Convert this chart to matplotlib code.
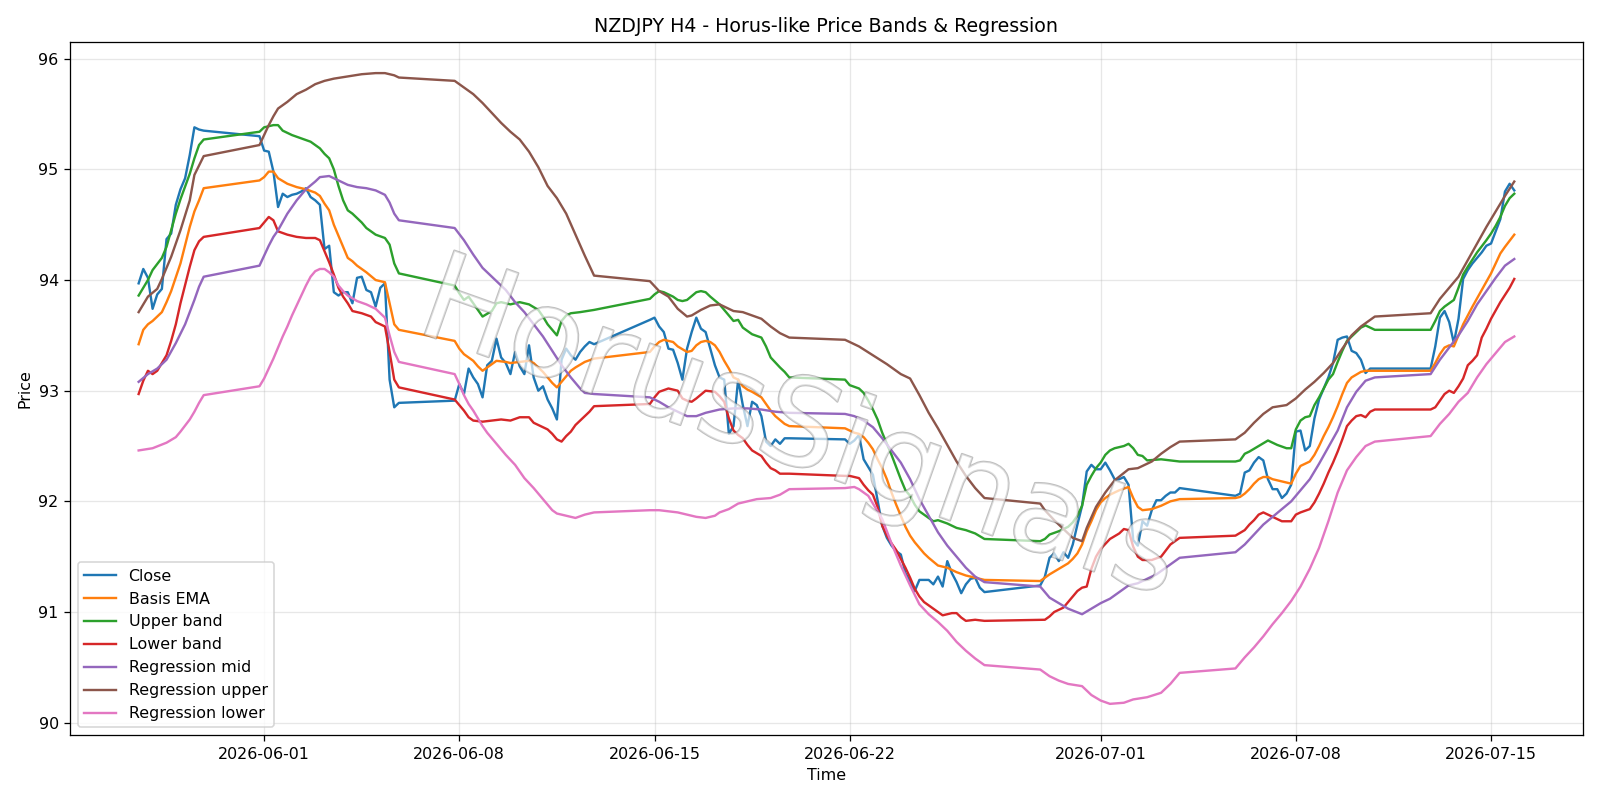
import matplotlib
matplotlib.use("Agg")
import matplotlib.pyplot as plt
import matplotlib.patheffects as pe
import pandas as pd

# H4 sessions: first bar of each trading week and number of 4h bars
sessions = [("2026-05-27 12:00", 15), ("2026-05-31 20:00", 31), ("2026-06-07 20:00", 31),
            ("2026-06-14 20:00", 31), ("2026-06-21 20:00", 31), ("2026-06-28 20:00", 31),
            ("2026-07-05 20:00", 31), ("2026-07-12 20:00", 19)]

close = [
    93.97, 94.10, 94.02, 93.74, 93.87, 93.92, 94.37, 94.42, 94.68, 94.82, 94.92, 95.13, 95.38, 95.36, 95.35,
    95.30, 95.17, 95.16, 94.98, 94.66, 94.78, 94.75, 94.77, 94.78, 94.80, 94.83, 94.75, 94.72, 94.68, 94.28, 94.31,
    93.89, 93.86, 93.89, 93.89, 93.79, 94.02, 94.03, 93.91, 93.89, 93.76, 93.93, 93.97, 93.10, 92.85, 92.89,
    92.91, 93.06, 92.97, 93.20, 93.12, 93.06, 92.94, 93.23, 93.27, 93.47, 93.30, 93.25, 93.15, 93.35, 93.22, 93.15,
    93.41, 93.12, 93.00, 93.04, 92.92, 92.84, 92.74, 93.28, 93.38, 93.32, 93.28, 93.35, 93.40, 93.44, 93.42,
    93.64, 93.66, 93.58, 93.53, 93.38, 93.37, 93.25, 93.10, 93.38, 93.53, 93.66, 93.56, 93.53, 93.38, 93.23, 93.12,
    93.10, 92.61, 92.68, 93.10, 92.87, 92.68, 92.90, 92.87, 92.77, 92.54, 92.50, 92.56, 92.52, 92.57, 92.57,
    92.56, 92.52, 92.55, 92.60, 92.38, 92.31, 92.24, 92.01, 91.78, 91.67, 91.60, 91.55, 91.52, 91.35, 91.28, 91.19,
    91.29, 91.29, 91.29, 91.25, 91.32, 91.23, 91.46, 91.35, 91.27, 91.17, 91.25, 91.30, 91.31, 91.22, 91.18,
    91.24, 91.32, 91.49, 91.53, 91.46, 91.54, 91.49, 91.61, 91.79, 91.96, 92.27, 92.33, 92.29, 92.29, 92.35, 92.28,
    92.20, 92.20, 92.22, 92.15, 91.65, 91.60, 91.82, 91.78, 91.92, 92.01, 92.01, 92.05, 92.08, 92.08, 92.12,
    92.05, 92.07, 92.26, 92.28, 92.35, 92.40, 92.37, 92.20, 92.11, 92.11, 92.03, 92.07, 92.15, 92.63, 92.64, 92.46,
    92.50, 92.75, 92.92, 93.02, 93.12, 93.25, 93.46, 93.48, 93.49, 93.36, 93.34, 93.28, 93.16, 93.20, 93.20,
    93.20, 93.40, 93.66, 93.72, 93.62, 93.43, 93.65, 94.01, 94.09, 94.15, 94.20, 94.25, 94.31, 94.33, 94.44,
    94.55, 94.80, 94.87, 94.81,
]

# (hours from 2026-06-01 00:00, price)
basis = [(-108, 93.42), (-104, 93.55), (-100, 93.60), (-96, 93.63), (-88, 93.71), (-84, 93.80), (-80, 93.90),
         (-72, 94.15), (-64, 94.48), (-60, 94.62), (-56, 94.72), (-52, 94.83), (-4, 94.90), (0, 94.93), (4, 94.98),
         (8, 94.98), (12, 94.92), (20, 94.87), (28, 94.84), (36, 94.82), (44, 94.79), (48, 94.76), (52, 94.69),
         (56, 94.63), (60, 94.50), (64, 94.40), (68, 94.30), (72, 94.20), (76, 94.17), (80, 94.13), (88, 94.07),
         (96, 94.00), (104, 93.98), (108, 93.79), (112, 93.60), (116, 93.55), (164, 93.45), (168, 93.38),
         (172, 93.33), (176, 93.30), (180, 93.27), (184, 93.22), (188, 93.18), (192, 93.21), (196, 93.24),
         (200, 93.27), (208, 93.26), (212, 93.25), (220, 93.26), (228, 93.27), (232, 93.25), (236, 93.21),
         (240, 93.17), (244, 93.12), (248, 93.07), (252, 93.03), (256, 93.08), (260, 93.13), (264, 93.18),
         (268, 93.21), (276, 93.26), (284, 93.29), (332, 93.35), (336, 93.40), (340, 93.44), (344, 93.46),
         (352, 93.44), (356, 93.40), (364, 93.35), (368, 93.36), (372, 93.41), (376, 93.44), (380, 93.45),
         (384, 93.44), (388, 93.41), (392, 93.35), (396, 93.27), (400, 93.20), (404, 93.12), (408, 93.10),
         (412, 93.04), (416, 93.01), (420, 92.99), (428, 92.94), (432, 92.88), (436, 92.82), (440, 92.77),
         (448, 92.70), (452, 92.68), (500, 92.66), (508, 92.62), (512, 92.61), (516, 92.58), (520, 92.53),
         (524, 92.47), (528, 92.38), (532, 92.30), (536, 92.20), (540, 92.08), (544, 91.97), (548, 91.87),
         (552, 91.77), (556, 91.69), (560, 91.63), (564, 91.58), (568, 91.53), (572, 91.49), (580, 91.42),
         (588, 91.40), (596, 91.36), (604, 91.33), (612, 91.31), (620, 91.29), (668, 91.28), (672, 91.31),
         (676, 91.34), (684, 91.39), (692, 91.44), (696, 91.48), (700, 91.53), (704, 91.61), (708, 91.73),
         (712, 91.82), (716, 91.92), (720, 91.99), (724, 92.03), (728, 92.06), (736, 92.10), (744, 92.13),
         (748, 92.03), (752, 91.95), (756, 91.92), (764, 91.93), (772, 91.96), (780, 92.00), (788, 92.02),
         (836, 92.03), (840, 92.04), (844, 92.07), (848, 92.11), (852, 92.16), (856, 92.20), (860, 92.22),
         (864, 92.22), (868, 92.20), (876, 92.18), (884, 92.16), (888, 92.25), (892, 92.32), (900, 92.36),
         (904, 92.42), (908, 92.50), (912, 92.59), (916, 92.67), (920, 92.76), (924, 92.86), (928, 92.97),
         (932, 93.07), (936, 93.12), (944, 93.17), (948, 93.18), (956, 93.18), (1004, 93.18), (1008, 93.25),
         (1012, 93.33), (1016, 93.39), (1020, 93.41), (1024, 93.40), (1028, 93.50), (1032, 93.60), (1036, 93.68),
         (1040, 93.76), (1048, 93.91), (1056, 94.06), (1064, 94.24), (1068, 94.30), (1076, 94.41)]

upper = [(-108, 93.86), (-100, 94.00), (-96, 94.09), (-88, 94.20), (-84, 94.30), (-76, 94.60), (-72, 94.73),
         (-64, 94.96), (-60, 95.10), (-56, 95.22), (-52, 95.27), (-4, 95.34), (0, 95.38), (8, 95.40), (12, 95.40),
         (16, 95.35), (24, 95.31), (32, 95.28), (40, 95.25), (48, 95.19), (52, 95.14), (56, 95.10), (60, 95.00),
         (64, 94.85), (68, 94.72), (72, 94.63), (76, 94.60), (84, 94.52), (88, 94.47), (96, 94.41), (104, 94.38),
         (108, 94.32), (112, 94.15), (116, 94.06), (164, 93.95), (168, 93.88), (172, 93.82), (176, 93.85),
         (180, 93.79), (188, 93.67), (196, 93.72), (200, 93.79), (204, 93.80), (212, 93.78), (220, 93.80),
         (228, 93.78), (236, 93.73), (240, 93.67), (244, 93.60), (252, 93.50), (256, 93.63), (260, 93.68),
         (264, 93.70), (272, 93.71), (284, 93.73), (332, 93.83), (336, 93.87), (340, 93.90), (344, 93.89),
         (352, 93.85), (356, 93.82), (360, 93.81), (364, 93.82), (372, 93.89), (376, 93.90), (380, 93.89),
         (384, 93.85), (392, 93.78), (396, 93.73), (400, 93.68), (404, 93.63), (408, 93.64), (412, 93.57),
         (420, 93.51), (428, 93.48), (432, 93.40), (436, 93.30), (444, 93.21), (448, 93.17), (452, 93.12),
         (500, 93.10), (504, 93.05), (512, 93.02), (516, 92.98), (520, 92.91), (524, 92.83), (528, 92.74),
         (532, 92.62), (536, 92.52), (540, 92.42), (544, 92.31), (548, 92.20), (552, 92.10), (556, 92.05),
         (560, 91.97), (564, 91.91), (568, 91.88), (576, 91.82), (580, 91.83), (588, 91.80), (596, 91.76),
         (604, 91.74), (612, 91.71), (620, 91.66), (668, 91.64), (672, 91.66), (676, 91.70), (684, 91.73),
         (692, 91.77), (696, 91.81), (700, 91.87), (704, 91.96), (708, 92.15), (712, 92.23), (716, 92.30),
         (720, 92.35), (724, 92.42), (728, 92.46), (732, 92.48), (740, 92.50), (744, 92.52), (748, 92.48),
         (752, 92.42), (756, 92.41), (760, 92.37), (772, 92.38), (780, 92.37), (788, 92.36), (836, 92.36),
         (840, 92.37), (844, 92.43), (848, 92.45), (856, 92.50), (864, 92.55), (872, 92.51), (880, 92.48),
         (884, 92.48), (888, 92.65), (892, 92.73), (896, 92.76), (900, 92.77), (904, 92.87), (908, 92.94),
         (912, 93.02), (916, 93.10), (920, 93.15), (924, 93.26), (928, 93.36), (932, 93.45), (936, 93.49),
         (940, 93.53), (944, 93.57), (948, 93.59), (952, 93.57), (956, 93.55), (1004, 93.55), (1008, 93.63),
         (1012, 93.72), (1016, 93.76), (1020, 93.79), (1024, 93.82), (1028, 93.93), (1032, 94.05), (1036, 94.12),
         (1044, 94.25), (1052, 94.36), (1056, 94.42), (1060, 94.49), (1064, 94.57), (1068, 94.67), (1072, 94.74),
         (1076, 94.78)]

lower = [(-108, 92.97), (-104, 93.09), (-100, 93.18), (-96, 93.15), (-92, 93.18), (-84, 93.32), (-80, 93.45),
         (-76, 93.60), (-72, 93.79), (-64, 94.12), (-60, 94.27), (-56, 94.35), (-52, 94.39), (-4, 94.47), (0, 94.52),
         (4, 94.57), (8, 94.54), (12, 94.44), (20, 94.41), (28, 94.39), (36, 94.38), (44, 94.38), (48, 94.36),
         (52, 94.26), (56, 94.16), (60, 94.05), (64, 93.93), (68, 93.85), (72, 93.79), (76, 93.72), (84, 93.70),
         (92, 93.67), (96, 93.62), (104, 93.58), (108, 93.35), (112, 93.10), (116, 93.03), (164, 92.92),
         (168, 92.87), (172, 92.82), (176, 92.76), (180, 92.73), (188, 92.72), (196, 92.73), (204, 92.74),
         (212, 92.73), (220, 92.76), (228, 92.76), (232, 92.71), (236, 92.69), (244, 92.65), (248, 92.61),
         (252, 92.56), (256, 92.54), (260, 92.59), (264, 92.63), (268, 92.69), (276, 92.77), (280, 92.81),
         (284, 92.86), (332, 92.88), (336, 92.94), (340, 92.99), (348, 93.02), (356, 93.00), (360, 92.93),
         (364, 92.91), (368, 92.90), (372, 92.93), (380, 93.00), (388, 92.99), (392, 92.95), (396, 92.90),
         (400, 92.75), (404, 92.64), (408, 92.60), (412, 92.57), (416, 92.51), (420, 92.46), (428, 92.41),
         (432, 92.35), (436, 92.30), (440, 92.28), (444, 92.25), (452, 92.25), (500, 92.23), (504, 92.23),
         (512, 92.21), (516, 92.15), (520, 92.10), (524, 92.06), (528, 91.95), (532, 91.78), (536, 91.69),
         (540, 91.62), (544, 91.56), (548, 91.48), (552, 91.40), (556, 91.31), (560, 91.21), (564, 91.14),
         (568, 91.09), (572, 91.06), (576, 91.03), (584, 90.97), (592, 90.99), (596, 90.99), (600, 90.95),
         (604, 90.92), (612, 90.93), (620, 90.92), (668, 90.93), (672, 90.93), (676, 90.96), (680, 91.00),
         (688, 91.04), (692, 91.09), (696, 91.14), (700, 91.19), (704, 91.22), (708, 91.23), (712, 91.39),
         (716, 91.50), (720, 91.57), (728, 91.66), (736, 91.71), (740, 91.75), (744, 91.74), (748, 91.59),
         (752, 91.50), (756, 91.47), (764, 91.47), (772, 91.50), (780, 91.61), (788, 91.67), (836, 91.69),
         (844, 91.74), (848, 91.79), (852, 91.83), (856, 91.88), (860, 91.90), (864, 91.88), (868, 91.86),
         (876, 91.82), (884, 91.82), (888, 91.88), (892, 91.90), (900, 91.93), (904, 91.99), (908, 92.07),
         (912, 92.16), (916, 92.26), (920, 92.35), (924, 92.45), (928, 92.56), (932, 92.68), (936, 92.73),
         (940, 92.77), (944, 92.78), (948, 92.76), (952, 92.81), (956, 92.83), (1004, 92.83), (1008, 92.85),
         (1012, 92.91), (1016, 92.97), (1020, 93.00), (1024, 92.98), (1028, 93.04), (1032, 93.11), (1036, 93.23),
         (1040, 93.27), (1044, 93.32), (1048, 93.48), (1052, 93.56), (1056, 93.65), (1064, 93.80), (1072, 93.93),
         (1076, 94.01)]

reg_mid = [(-108, 93.08), (-100, 93.15), (-92, 93.20), (-84, 93.28), (-76, 93.43), (-68, 93.60), (-60, 93.82),
           (-56, 93.94), (-52, 94.03), (-4, 94.13), (0, 94.22), (4, 94.31), (8, 94.39), (12, 94.45), (20, 94.60),
           (28, 94.72), (36, 94.82), (44, 94.89), (48, 94.93), (56, 94.94), (64, 94.90), (72, 94.86), (80, 94.84),
           (88, 94.83), (96, 94.81), (104, 94.77), (108, 94.70), (112, 94.60), (116, 94.54), (164, 94.47),
           (172, 94.36), (180, 94.23), (188, 94.11), (196, 94.03), (204, 93.95), (208, 93.91), (216, 93.80),
           (224, 93.71), (232, 93.60), (240, 93.49), (248, 93.36), (256, 93.23), (264, 93.12), (272, 93.02),
           (276, 92.98), (284, 92.97), (332, 92.94), (340, 92.90), (348, 92.85), (356, 92.81), (364, 92.77),
           (372, 92.77), (380, 92.80), (392, 92.83), (404, 92.84), (416, 92.84), (428, 92.83), (440, 92.81),
           (452, 92.80), (500, 92.79), (508, 92.77), (516, 92.73), (524, 92.67), (532, 92.57), (540, 92.46),
           (548, 92.35), (556, 92.20), (564, 92.02), (572, 91.87), (580, 91.72), (588, 91.60), (596, 91.50),
           (604, 91.40), (612, 91.32), (620, 91.27), (668, 91.23), (676, 91.13), (684, 91.08), (692, 91.03),
           (704, 90.98), (712, 91.03), (720, 91.08), (728, 91.12), (736, 91.18), (744, 91.24), (752, 91.26),
           (760, 91.30), (768, 91.34), (776, 91.40), (788, 91.49), (836, 91.54), (844, 91.61), (852, 91.70),
           (860, 91.79), (868, 91.86), (876, 91.93), (884, 92.00), (892, 92.10), (900, 92.20), (908, 92.34),
           (916, 92.49), (924, 92.64), (932, 92.85), (940, 92.99), (948, 93.09), (956, 93.12), (1004, 93.15),
           (1012, 93.28), (1020, 93.39), (1028, 93.50), (1036, 93.63), (1044, 93.78), (1052, 93.90), (1060, 94.02),
           (1068, 94.13), (1076, 94.19)]

reg_upper = [(-108, 93.71), (-100, 93.85), (-92, 93.92), (-88, 94.01), (-80, 94.21), (-72, 94.45), (-64, 94.72),
             (-60, 94.95), (-52, 95.12), (-4, 95.22), (0, 95.31), (4, 95.40), (8, 95.48), (12, 95.55), (20, 95.61),
             (28, 95.68), (36, 95.72), (44, 95.77), (52, 95.80), (60, 95.82), (72, 95.84), (84, 95.86), (96, 95.87),
             (104, 95.87), (112, 95.85), (116, 95.83), (164, 95.80), (172, 95.74), (180, 95.68), (188, 95.60),
             (196, 95.51), (204, 95.42), (212, 95.34), (220, 95.27), (228, 95.16), (236, 95.02), (244, 94.85),
             (252, 94.74), (260, 94.60), (268, 94.41), (276, 94.22), (284, 94.04), (332, 93.99), (340, 93.90),
             (348, 93.85), (356, 93.74), (364, 93.67), (368, 93.68), (376, 93.73), (384, 93.77), (392, 93.78),
             (396, 93.76), (404, 93.72), (412, 93.71), (420, 93.68), (428, 93.65), (436, 93.58), (444, 93.52),
             (452, 93.48), (500, 93.46), (512, 93.40), (524, 93.32), (536, 93.24), (548, 93.15), (556, 93.11),
             (564, 92.96), (572, 92.80), (580, 92.66), (588, 92.51), (596, 92.36), (604, 92.23), (612, 92.12),
             (620, 92.03), (668, 91.98), (672, 91.92), (680, 91.83), (688, 91.75), (696, 91.67), (704, 91.64),
             (708, 91.76), (716, 91.95), (724, 92.08), (732, 92.19), (744, 92.29), (752, 92.30), (764, 92.36),
             (772, 92.43), (780, 92.49), (788, 92.54), (836, 92.56), (844, 92.62), (852, 92.71), (860, 92.79),
             (868, 92.85), (880, 92.87), (888, 92.93), (896, 93.01), (904, 93.08), (912, 93.16), (920, 93.25),
             (928, 93.38), (936, 93.50), (944, 93.58), (956, 93.67), (1004, 93.70), (1012, 93.83), (1020, 93.93),
             (1028, 94.03), (1036, 94.18), (1044, 94.33), (1052, 94.48), (1060, 94.62), (1068, 94.76), (1076, 94.89)]

reg_lower = [(-108, 92.46), (-96, 92.48), (-84, 92.53), (-76, 92.58), (-72, 92.63), (-64, 92.74), (-60, 92.81),
             (-56, 92.89), (-52, 92.96), (-4, 93.04), (0, 93.11), (4, 93.20), (8, 93.29), (12, 93.39), (16, 93.49),
             (20, 93.58), (24, 93.68), (28, 93.77), (32, 93.86), (36, 93.95), (40, 94.03), (44, 94.08), (48, 94.10),
             (52, 94.10), (56, 94.07), (60, 94.03), (64, 93.95), (68, 93.90), (72, 93.86), (80, 93.81), (88, 93.78),
             (96, 93.74), (104, 93.66), (108, 93.50), (112, 93.35), (116, 93.26), (164, 93.15), (168, 93.06),
             (172, 92.96), (176, 92.88), (180, 92.82), (184, 92.75), (188, 92.68), (192, 92.62), (200, 92.52),
             (208, 92.42), (216, 92.33), (224, 92.21), (232, 92.12), (240, 92.02), (248, 91.92), (252, 91.89),
             (260, 91.87), (268, 91.85), (276, 91.88), (284, 91.90), (332, 91.92), (340, 91.92), (348, 91.91),
             (356, 91.90), (364, 91.88), (372, 91.86), (380, 91.85), (388, 91.87), (392, 91.90), (400, 91.93),
             (408, 91.98), (416, 92.00), (424, 92.02), (436, 92.03), (444, 92.06), (452, 92.11), (500, 92.12),
             (508, 92.13), (512, 92.11), (520, 92.05), (524, 91.98), (532, 91.84), (540, 91.62), (548, 91.42),
             (556, 91.24), (564, 91.07), (572, 90.98), (580, 90.91), (588, 90.83), (596, 90.73), (604, 90.65),
             (612, 90.58), (620, 90.52), (668, 90.48), (676, 90.42), (684, 90.38), (692, 90.35), (704, 90.33),
             (712, 90.25), (720, 90.20), (728, 90.17), (740, 90.18), (748, 90.21), (760, 90.23), (772, 90.27),
             (780, 90.35), (788, 90.45), (836, 90.49), (844, 90.59), (852, 90.68), (860, 90.78), (868, 90.89),
             (876, 90.99), (884, 91.10), (892, 91.23), (900, 91.39), (908, 91.58), (916, 91.82), (924, 92.08),
             (932, 92.28), (940, 92.40), (948, 92.50), (956, 92.54), (1004, 92.59), (1012, 92.70), (1020, 92.79),
             (1028, 92.90), (1036, 92.98), (1044, 93.12), (1052, 93.24), (1060, 93.34), (1068, 93.44), (1076, 93.49)]

t0 = pd.Timestamp("2026-06-01")


def bar_times(sessions):
    parts = [pd.date_range(start, periods=n, freq="4h") for start, n in sessions]
    return parts[0].append(parts[1:])


def unpack(points):
    hours = [p[0] for p in points]
    vals = [p[1] for p in points]
    return t0 + pd.to_timedelta(hours, unit="h"), vals


fig, ax = plt.subplots(figsize=(14, 7), dpi=114.3)

ax.plot(bar_times(sessions), close, label="Close")
series = [(basis, "Basis EMA"), (upper, "Upper band"), (lower, "Lower band"),
          (reg_mid, "Regression mid"), (reg_upper, "Regression upper"), (reg_lower, "Regression lower")]
for pts, name in series:
    t, v = unpack(pts)
    ax.plot(t, v, label=name)

ax.set_title("NZDJPY H4 - Horus-like Price Bands & Regression")
ax.set_xlabel("Time")
ax.set_ylabel("Price")
ax.grid(True, alpha=0.3)
ax.legend(loc="lower left")
fig.tight_layout()

# watermark
fig.text(0.5, 0.46, "HorusSignals", fontsize=77, rotation=-19.5,
         ha="center", va="center", color="white", alpha=0.45, zorder=10,
         path_effects=[pe.withStroke(linewidth=1.3, foreground="0.45")])

fig.savefig("out.png")
